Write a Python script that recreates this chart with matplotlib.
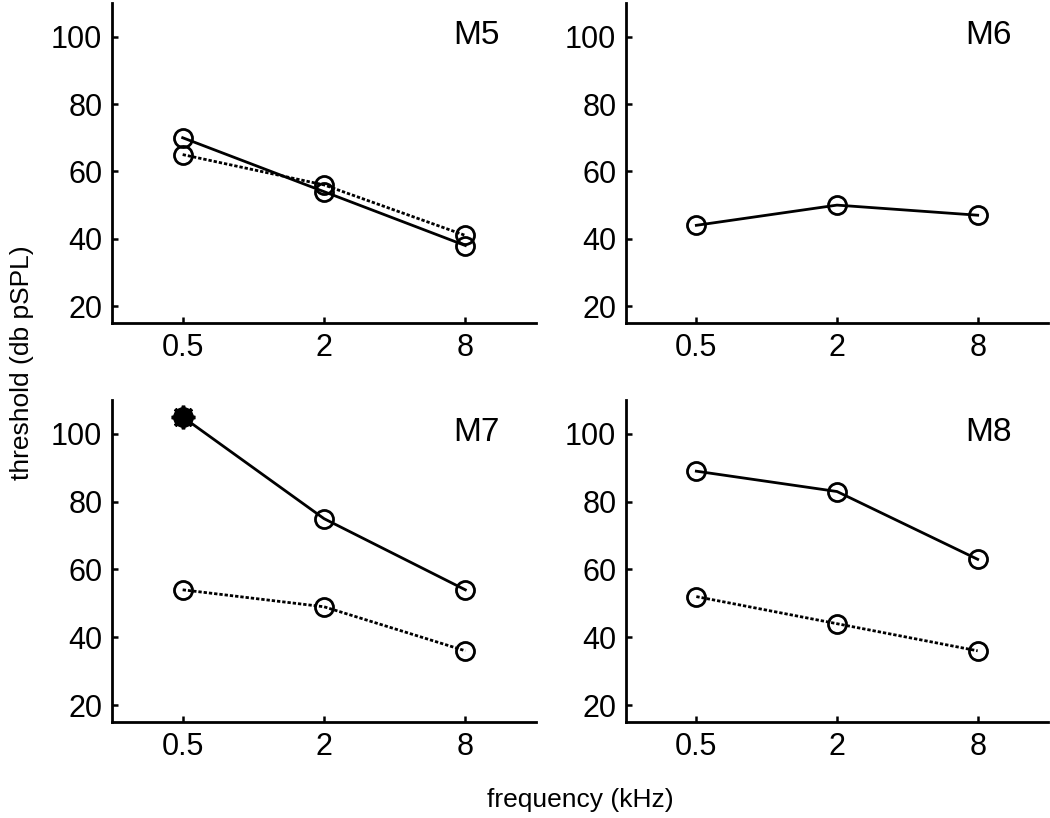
import numpy as np
import matplotlib.pyplot as plt

plt.rcParams['font.family'] = ['Liberation Sans', 'DejaVu Sans']

# data
freqs = [0.5, 2, 8]
freq_labels = ['0.5', '2', '8']
panels = ['M5', 'M6', 'M7', 'M8']

solid = {
    'M5': [70, 54, 38],
    'M6': [44, 50, 47],
    'M7': [105, 75, 54],
    'M8': [89, 83, 63],
}
dotted = {
    'M5': [65, 56, 41],
    'M6': None,
    'M7': [54, 49, 36],
    'M8': [52, 44, 36],
}
# points drawn with the asterisk marker (panel, index)
starred = [('M7', 0)]

fig = plt.figure(figsize=(10.5, 8.18), dpi=100)

W = 1050.0
H = 818.0
boxes = {
    'M5': (112, 3, 536, 323),
    'M6': (626, 3, 1048, 323),
    'M7': (112, 400, 536, 722),
    'M8': (626, 400, 1048, 722),
}

for name in panels:
    x0, y0, x1, y1 = boxes[name]
    ax = fig.add_axes([x0 / W, 1 - y1 / H, (x1 - x0) / W, (y1 - y0) / H])
    ax.set_xscale('log', base=2)
    ax.set_xlim(0.25, 16)
    ax.set_ylim(15, 110)

    ax.plot(freqs, solid[name], '-', color='k', lw=2, marker='o',
            ms=13, mfc='none', mec='k', mew=2, zorder=3)
    if dotted[name] is not None:
        ax.plot(freqs, dotted[name], color='k', lw=2, ls=(0, (1.2, 0.7)),
                marker='o', ms=13, mfc='none', mec='k', mew=2, zorder=3)

    for p, i in starred:
        if p == name:
            ax.plot(freqs[i], solid[name][i], marker=(8, 2, 0), ms=17,
                    color='k', mew=2.5, zorder=4)
            ax.plot(freqs[i], solid[name][i], marker='o', ms=11, color='k',
                    mfc='k', zorder=4)

    ax.set_xticks(freqs)
    ax.set_xticklabels(freq_labels)
    ax.minorticks_off()
    ax.set_yticks([20, 40, 60, 80, 100])
    ax.tick_params(direction='in', length=4, width=1.8, labelsize=22, pad=7)
    for s in ['top', 'right']:
        ax.spines[s].set_visible(False)
    for s in ['left', 'bottom']:
        ax.spines[s].set_linewidth(2)
    ax.patch.set_alpha(0)

    ax.text(0.915, 0.9, name, transform=ax.transAxes, ha='right', va='center',
            fontsize=24)

fig.text(22 / W, 1 - 363 / H, 'threshold (db pSPL)', rotation=90,
         ha='center', va='center', fontsize=19)
fig.text(580 / W, 1 - 800 / H, 'frequency (kHz)', ha='center', va='center',
         fontsize=19)

fig.savefig('out.png', dpi=100)
